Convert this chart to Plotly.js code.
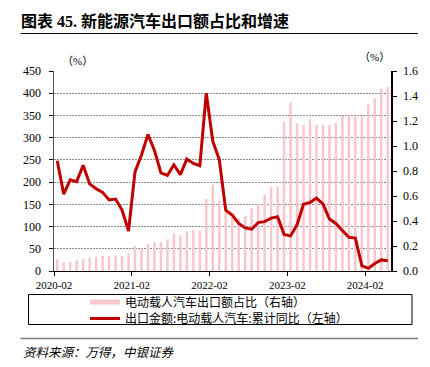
<!DOCTYPE html>
<html>
<head>
<meta charset="utf-8">
<script src="https://cdn.plot.ly/plotly-3.0.1.min.js"></script>
<style>
  html, body { margin: 0; padding: 0; background: #fff; }
  #chart { width: 430px; height: 367px; }
</style>
</head>
<body>
<div id="chart"></div>
<script>
// ---- data ----
const months = [
  '2020-02','2020-03','2020-04','2020-05','2020-06','2020-07','2020-08','2020-09','2020-10','2020-11','2020-12',
  '2021-01','2021-02','2021-03','2021-04','2021-05','2021-06','2021-07','2021-08','2021-09','2021-10','2021-11','2021-12',
  '2022-01','2022-02','2022-03','2022-04','2022-05','2022-06','2022-07','2022-08','2022-09','2022-10','2022-11','2022-12',
  '2023-01','2023-02','2023-03','2023-04','2023-05','2023-06','2023-07','2023-08','2023-09','2023-10','2023-11','2023-12',
  '2024-01','2024-02','2024-03','2024-04','2024-05'
];
// 电动载人汽车出口额占比 (%), right axis
const shareValues = [
  0.095,0.070,0.073,0.086,0.097,0.108,0.113,0.121,0.119,0.124,0.121,
  0.140,0.199,0.180,0.215,0.231,0.231,0.253,0.296,0.285,0.315,0.328,0.323,
  0.576,0.691,0.562,0.476,0.430,0.420,0.440,0.503,0.538,0.610,0.672,0.675,
  1.194,1.350,1.180,1.167,1.215,1.170,1.170,1.170,1.183,1.242,1.242,1.242,
  1.242,1.336,1.382,1.457,1.470
];
// 出口金额:电动载人汽车:累计同比 (%), left axis
const growthValues = [
  248,173,205,201,238,196,185,177,160,162,137,
  90,223,261,307,271,221,215,239,217,252,242,237,
  400,292,251,137,126,107,97,94,109,111,119,122,
  82,79,104,150,154,164,151,117,107,91,76,74,
  12,6,17,25,23
];
const xTickMonths = ['2020-02','2021-02','2022-02','2023-02','2024-02'];
const shareName = '电动载人汽车出口额占比（右轴）';
const growthName = '出口金额:电动载人汽车:累计同比（左轴）';
const titleText = '图表 45. 新能源汽车出口额占比和增速';
const sourceText = '资料来源：万得，中银证券';

// ---- build ----
const idx = months.map((m, i) => i);
const tickVals = xTickMonths.map(m => months.indexOf(m) - 0.5);

const W = 430, H = 367;
const L = 54, R = 391, T = 71, B = 271;
const px = x => (x - L) / (R - L);
const py = y => (B - y) / (B - T);

const serif = 'Liberation Serif, "Noto Sans CJK SC", serif';
const cjk = '"Noto Sans CJK SC", sans-serif';
const pink = 'rgb(248,198,203)';
const red = '#C00000';

// bars live on the base axis (right scale), the line on the overlaying axis (left scale) so it draws on top
const traces = [
  {
    type: 'bar', x: idx, y: shareValues, yaxis: 'y', name: shareName,
    marker: { color: pink }, width: 0.38, showlegend: false,
    text: months, hovertemplate: '%{text}: %{y}<extra></extra>'
  },
  {
    type: 'scatter', mode: 'lines', x: [null], y: [null], yaxis: 'y', name: shareName,
    line: { color: pink, width: 5 }, legend: 'legend', hoverinfo: 'skip'
  },
  {
    type: 'scatter', mode: 'lines', x: idx, y: growthValues, yaxis: 'y2', name: growthName,
    line: { color: red, width: 3 }, legend: 'legend2',
    text: months, hovertemplate: '%{text}: %{y}<extra></extra>'
  }
];

const legendCommon = {
  xref: 'paper', yref: 'paper', xanchor: 'left', yanchor: 'middle',
  bgcolor: 'rgba(0,0,0,0)', borderwidth: 0,
  font: { family: cjk, size: 12, color: '#000' }, itemwidth: 30
};

const layout = {
  width: W, height: H,
  margin: { l: L, r: W - R, t: T, b: H - B, pad: 0 },
  paper_bgcolor: '#fff', plot_bgcolor: '#fff',
  showlegend: true,
  title: {
    text: '<b>' + titleText + '</b>',
    xref: 'container', yref: 'container',
    x: 21 / W, xanchor: 'left', y: 1 - 21.5 / H, yanchor: 'middle',
    font: { family: serif, size: 16, color: '#000' }
  },
  xaxis: {
    range: [-0.5, months.length - 0.5],
    tickmode: 'array', tickvals: tickVals, ticktext: xTickMonths,
    showline: true, linecolor: '#000', linewidth: 1,
    ticks: 'outside', ticklen: 4, tickcolor: '#000',
    showgrid: false, zeroline: false,
    tickfont: { family: serif, size: 11, color: '#000' }
  },
  // right scale: 电动载人汽车出口额占比
  yaxis: {
    range: [0, 1.6], dtick: 0.2, tick0: 0, tickformat: '.1f',
    side: 'right',
    showline: true, linecolor: '#000', linewidth: 1.5,
    ticks: 'outside', ticklen: 4, tickcolor: '#000',
    showgrid: false, zeroline: false, ticklabelstandoff: 4,
    tickfont: { family: serif, size: 12, color: '#000' }
  },
  // left scale: 累计同比
  yaxis2: {
    range: [0, 450], dtick: 50, tick0: 0,
    overlaying: 'y', side: 'left',
    showline: true, linecolor: '#555', linewidth: 1.5,
    ticks: 'outside', ticklen: 4, tickcolor: '#000',
    showgrid: true, gridcolor: '#8a8a8a', gridwidth: 1, griddash: '2px,1px',
    zeroline: false, ticklabelstandoff: 5,
    tickfont: { family: serif, size: 12, color: '#000' }
  },
  legend: Object.assign({}, legendCommon, { x: px(85), y: py(302) }),
  legend2: Object.assign({}, legendCommon, { x: px(85), y: py(318.5) }),
  shapes: [
    { type: 'line', xref: 'paper', yref: 'paper', x0: px(20.5), x1: px(418), y0: py(33.5), y1: py(33.5),
      line: { color: '#000', width: 1 } },
    { type: 'rect', xref: 'paper', yref: 'paper', x0: px(28.5), x1: px(412), y0: py(294.5), y1: py(324.5),
      line: { color: '#000', width: 1 }, fillcolor: 'rgba(0,0,0,0)' },
    { type: 'line', xref: 'paper', yref: 'paper', x0: px(20.5), x1: px(418), y0: py(338.5), y1: py(338.5),
      line: { color: '#7f7f7f', width: 1.5 } }
  ],
  annotations: [
    { text: '（%）', xref: 'paper', yref: 'paper', x: px(77.5), y: py(61), xanchor: 'center', yanchor: 'middle',
      showarrow: false, font: { family: serif, size: 11, color: '#000' } },
    { text: '（%）', xref: 'paper', yref: 'paper', x: px(374), y: py(57), xanchor: 'center', yanchor: 'middle',
      showarrow: false, font: { family: serif, size: 11, color: '#000' } },
    { text: '<i>' + sourceText + '</i>', xref: 'paper', yref: 'paper', x: px(21), y: py(351), xanchor: 'left', yanchor: 'middle',
      showarrow: false, font: { family: cjk, size: 12.5, color: '#000' } }
  ]
};

Plotly.newPlot('chart', traces, layout, { displayModeBar: false, staticPlot: true });
</script>
</body>
</html>
